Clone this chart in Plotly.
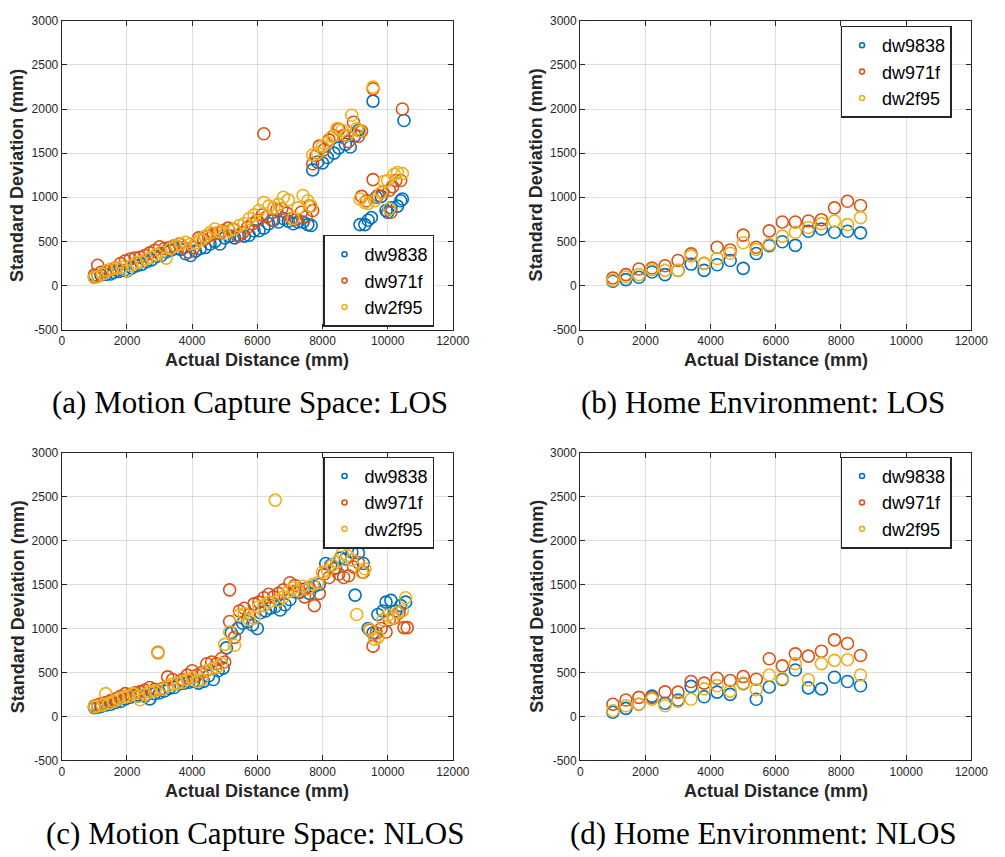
import plotly.graph_objects as go

# ---------------- data ----------------
series_names = ["dw9838", "dw971f", "dw2f95"]
colors = ["#0072BD", "#D95319", "#EDB120"]

x_ticks = [0, 2000, 4000, 6000, 8000, 10000, 12000]
x_ticktext = ["0", "2000", "4000", "6000", "8000", "10000", "12000"]
y_ticks = [-500, 0, 500, 1000, 1500, 2000, 2500, 3000]
y_ticktext = ["-500", "0", "500", "1000", "1500", "2000", "2500", "3000"]

# (a) Motion Capture Space: LOS
a_blue_x = [1000, 1100, 1200, 1350, 1500, 1600, 1750, 1900, 2000, 2150, 2300, 2450, 2600, 2750, 2900, 3050,
            3200, 3350, 3500, 3650, 3800, 3950, 4100, 4250, 4400, 4550, 4700, 4850, 5000, 5150, 5300, 5450,
            5600, 5750, 5900, 6050, 6200, 6350, 6500, 6650, 6800, 6950, 7100, 7250, 7400, 7550, 7650,
            7700, 7850, 8000, 8150, 8350, 8500, 8700, 8850, 9000, 9100, 9550, 10500,
            9150, 9300, 9400, 9500, 9650, 9800, 9950, 10000, 10100, 10300, 10400, 10450]
a_blue_y = [95, 110, 120, 125, 130, 150, 160, 170, 165, 200, 225, 240, 270, 290, 330, 340,
            380, 400, 420, 410, 360, 340, 390, 420, 430, 470, 500, 470, 540, 560, 540, 570,
            560, 570, 620, 620, 650, 700, 740, 720, 760, 730, 700, 720, 720, 690, 680,
            1310, 1400, 1390, 1450, 1500, 1560, 1600, 1570, 1700, 1760, 2090, 1870,
            690, 690, 740, 770, 1000, 1010, 850, 830, 880, 900, 960, 980]

a_orange_x = [1000, 1100, 1200, 1350, 1500, 1650, 1800, 1950, 2100, 2250, 2400, 2550, 2700, 2850, 3000, 3150,
              3300, 3450, 3600, 3750, 3900, 4050, 4200, 4350, 4500, 4650, 4800, 4950, 5100, 5250, 5400, 5550,
              5700, 5850, 6000, 6150, 6300, 6450, 6600, 6750, 6900, 7050, 7200, 7350, 7500, 7600, 7700,
              6200, 7700, 7800, 7900, 8050, 8200, 8350, 8500, 8650, 8800, 8950, 9100, 9200, 9550, 10450,
              9200, 9350, 9550, 9700, 9850, 10050, 10150, 10250, 10400, 10100]
a_orange_y = [120, 230, 150, 160, 180, 200, 250, 280, 300, 310, 320, 340, 370, 400, 440, 420,
              430, 450, 470, 430, 380, 430, 540, 520, 560, 580, 600, 620, 650, 640, 560, 600,
              660, 700, 740, 800, 780, 740, 860, 870, 820, 760, 750, 830, 780, 900, 850,
              1720, 1380, 1470, 1580, 1540, 1650, 1700, 1770, 1700, 1630, 1850, 1690, 1750, 2230, 2000,
              1010, 960, 1200, 1020, 1060, 1080, 1120, 1190, 1190, 830]

a_yellow_x = [1000, 1100, 1250, 1400, 1550, 1700, 1850, 2000, 2150, 2300, 2450, 2600, 2750, 2900, 3050, 3200,
              3350, 3500, 3650, 3800, 3950, 4100, 4250, 4400, 4550, 4700, 4850, 5000, 5150, 5300, 5450, 5600,
              5750, 5900, 6050, 6200, 6350, 6500, 6650, 6800, 6950, 7100, 7250, 7400, 7550, 7650,
              7700, 7850, 8000, 8150, 8300, 8450, 8600, 8750, 8900, 9050, 9150, 9550,
              9150, 9300, 9400, 9600, 9800, 9900, 10000, 10200, 10300, 10450, 10050]
a_yellow_y = [90, 100, 130, 170, 190, 200, 210, 170, 230, 260, 270, 300, 320, 350, 380, 310,
              420, 450, 470, 490, 470, 480, 520, 560, 600, 640, 610, 590, 620, 640, 680, 700,
              760, 800, 850, 940, 900, 880, 920, 1000, 970, 760, 880, 1020, 960, 900,
              1480, 1500, 1580, 1620, 1690, 1780, 1760, 1700, 1930, 1780, 1750, 2250,
              980, 940, 930, 960, 1050, 1180, 1190, 1260, 1280, 1270, 870]

# (b) Home Environment: LOS
home_x = [1000, 1400, 1800, 2200, 2600, 3000, 3400, 3800, 4200, 4600,
          5000, 5400, 5800, 6200, 6600, 7000, 7400, 7800, 8200, 8600]
b_blue_y = [50, 67, 93, 153, 123, 170, 243, 172, 235, 284, 194, 362, 450, 496, 455, 615, 640, 604, 615, 597]
b_orange_y = [86, 123, 187, 198, 224, 284, 358, 250, 433, 403, 571, 433, 619, 720, 720, 731, 746, 880, 955, 907]
b_yellow_y = [60, 97, 123, 179, 172, 172, 336, 254, 306, 366, 485, 410, 466, 560, 604, 657, 701, 731, 690, 769]

# (c) Motion Capture Space: NLOS
c_blue_x = [1000, 1100, 1200, 1350, 1500, 1650, 1800, 1950, 2100, 2250, 2400, 2550, 2700, 2850, 3000, 3150,
            3300, 3450, 3600, 3750, 3900, 4050, 4200, 4350, 4500, 4650, 4800, 4950, 5050, 5200, 5400, 5550,
            5700, 5850, 6000, 6100, 6250, 6400, 6550, 6700, 6850, 7000, 7150, 7300, 7450, 7600, 7750, 7900,
            8100, 8250, 8400, 8550, 8700, 8900, 9100, 9250, 9000, 9400, 9550, 9700, 9850, 9950, 10100,
            10250, 10400, 10550]
c_blue_y = [100, 105, 115, 130, 140, 160, 170, 200, 220, 230, 240, 230, 200, 260, 270, 290,
            320, 330, 370, 380, 390, 400, 380, 400, 460, 420, 520, 550, 780, 950, 1000, 1060,
            1080, 1040, 1000, 1180, 1200, 1230, 1250, 1210, 1270, 1330, 1420, 1410, 1450, 1400, 1480, 1500,
            1740, 1720, 1690, 1800, 1790, 1870, 1860, 1740, 1380, 1000, 950, 1160, 1200, 1300, 1320,
            1200, 1260, 1300]

c_orange_x = [1000, 1100, 1200, 1350, 1500, 1650, 1800, 1950, 2100, 2250, 2400, 2550, 2700, 2850, 2950, 3100,
              3250, 3400, 3550, 3700, 3850, 4000, 4150, 4300, 4450, 4600, 4750, 4900, 5000, 5150, 5150, 5300,
              5450, 5600, 5750, 5900, 6050, 6200, 6350, 6500, 6650, 6800, 7000, 7150, 7300, 7450, 7600, 7750,
              7900, 8050, 8200, 8350, 8500, 8650, 8800, 8950, 9100, 9250, 9450, 9550, 9650, 9800, 9950,
              10050, 10200, 10350, 10500, 10600]
c_orange_y = [120, 130, 145, 160, 180, 200, 230, 260, 250, 270, 280, 300, 330, 310, 730, 320,
              450, 420, 380, 420, 470, 520, 470, 500, 600, 620, 600, 660, 620, 1440, 1080, 900,
              1200, 1230, 1160, 1280, 1300, 1350, 1390, 1360, 1400, 1440, 1520, 1490, 1420, 1360, 1460, 1260,
              1400, 1620, 1580, 1680, 1620, 1580, 1600, 1700, 1750, 1640, 980, 800, 950, 1000, 960,
              1100, 1120, 1180, 1010, 1010]

c_yellow_x = [1000, 1100, 1250, 1350, 1450, 1600, 1750, 1900, 2050, 2200, 2350, 2400, 2550, 2700, 2850, 2950,
              3100, 3250, 3400, 3550, 3700, 3850, 4000, 4150, 4300, 4450, 4600, 4750, 4900, 5000, 5150, 5300,
              5450, 5600, 5750, 5900, 6050, 6200, 6350, 6550, 6650, 6800, 6950, 7100, 7250, 7400, 7550, 7700,
              7850, 8000, 8150, 8300, 8450, 8600, 8750, 8900, 9050, 9200, 9300, 9450, 9600, 9700, 9850,
              10000, 10150, 10300, 10450, 10550]
c_yellow_y = [110, 120, 130, 260, 150, 170, 200, 220, 230, 260, 230, 190, 250, 280, 290, 720,
              310, 350, 370, 380, 390, 420, 440, 400, 420, 520, 540, 560, 600, 820, 960, 810,
              1150, 1170, 1100, 1120, 1250, 1260, 1300, 2460, 1320, 1360, 1420, 1460, 1430, 1480, 1450, 1500,
              1520, 1640, 1660, 1720, 1760, 1850, 1830, 1780, 1160, 1640, 1680, 990, 880, 900, 1100,
              1150, 1120, 1180, 1200, 1350]

# (d) Home Environment: NLOS
d_blue_y = [48, 92, 140, 232, 151, 188, 343, 225, 277, 251, 373, 196, 336, 420, 528, 325, 314, 446, 398, 350]
d_orange_y = [140, 188, 218, 214, 280, 277, 398, 380, 435, 410, 454, 424, 657, 576, 712, 686, 742, 871, 830, 694]
d_yellow_y = [66, 122, 140, 196, 122, 170, 196, 314, 350, 288, 380, 306, 472, 432, 601, 417, 601, 638, 646, 472]

captions = ["(a) Motion Capture Space: LOS", "(b) Home Environment: LOS",
            "(c) Motion Capture Space: NLOS", "(d) Home Environment: NLOS"]
x_title = "Actual Distance (mm)"
y_title = "Standard Deviation (mm)"

panels = [
    [(a_blue_x, a_blue_y), (a_orange_x, a_orange_y), (a_yellow_x, a_yellow_y)],
    [(home_x, b_blue_y), (home_x, b_orange_y), (home_x, b_yellow_y)],
    [(c_blue_x, c_blue_y), (c_orange_x, c_orange_y), (c_yellow_x, c_yellow_y)],
    [(home_x, d_blue_y), (home_x, d_orange_y), (home_x, d_yellow_y)],
]

# ---------------- layout geometry (pixels) ----------------
W, H = 1005, 857
px_x = [(60, 459), (589, 988), (60, 459), (589, 988)]
px_y = [(14, 328), (14, 328), (453, 766), (453, 766)]

AXC = "#262626"
SANS = "Liberation Sans, Arial, sans-serif"
SERIF = "Liberation Serif, Times New Roman, serif"

fig = go.Figure()

legend_names = ["legend", "legend2", "legend3", "legend4"]
for i, pdata in enumerate(panels):
    xa = "x" if i == 0 else f"x{i+1}"
    ya = "y" if i == 0 else f"y{i+1}"
    for (xs, ys), name, col in zip(pdata, series_names, colors):
        fig.add_trace(go.Scatter(
            x=xs, y=ys, mode="markers", name=name, xaxis=xa, yaxis=ya,
            showlegend=False, hoverinfo="x+y",
            marker=dict(symbol="circle-open", size=12, color=col, line=dict(width=1.6)),
        ))
    for name, col in zip(series_names, colors):
        fig.add_trace(go.Scatter(
            x=[None], y=[None], mode="markers", name=name, xaxis=xa, yaxis=ya,
            legend=legend_names[i], showlegend=True,
            marker=dict(symbol="circle-open", size=5, color=col, line=dict(width=1.6)),
        ))

layout = dict(
    width=W, height=H, margin=dict(l=0, r=0, t=0, b=0),
    paper_bgcolor="white", plot_bgcolor="white",
    font=dict(family=SANS, color=AXC),
    annotations=[], showlegend=True,
)

legend_pos = [
    dict(x=440 / W, y=1 - 325 / H, xanchor="right", yanchor="bottom"),
    dict(x=968 / W, y=1 - 19 / H, xanchor="right", yanchor="top"),
    dict(x=440 / W, y=1 - 457 / H, xanchor="right", yanchor="top"),
    dict(x=968 / W, y=1 - 457 / H, xanchor="right", yanchor="top"),
]

for i in range(4):
    xk = "xaxis" if i == 0 else f"xaxis{i+1}"
    yk = "yaxis" if i == 0 else f"yaxis{i+1}"
    (x0, x1), (y0, y1) = px_x[i], px_y[i]
    common = dict(
        showline=True, linecolor=AXC, linewidth=1.3, mirror="ticks",
        ticks="inside", ticklen=5, tickwidth=1.1, tickcolor=AXC,
        showgrid=True, gridcolor="rgba(38,38,38,0.15)", gridwidth=1,
        zeroline=False, tickfont=dict(family=SANS, size=12, color=AXC),
        fixedrange=True,
    )
    layout[xk] = dict(common, domain=[x0 / W, x1 / W], range=[0, 12000],
                      tickmode="array", tickvals=x_ticks, ticktext=x_ticktext,
                      anchor="y" if i == 0 else f"y{i+1}")
    layout[yk] = dict(common, domain=[1 - y1 / H, 1 - y0 / H], range=[-500, 3000],
                      tickmode="array", tickvals=y_ticks, ticktext=y_ticktext,
                      anchor="x" if i == 0 else f"x{i+1}")
    # axis titles
    layout["annotations"].append(dict(
        text=f"<b>{x_title}</b>", xref="paper", yref="paper",
        x=(x0 + x1) / 2 / W, y=1 - (y1 + 31) / H, xanchor="center", yanchor="middle",
        showarrow=False, font=dict(family=SANS, size=18, color=AXC)))
    layout["annotations"].append(dict(
        text=f"<b>{y_title}</b>", xref="paper", yref="paper",
        x=(x0 - 45) / W, y=1 - (y0 + y1) / 2 / H, xanchor="center", yanchor="middle",
        textangle=-90, showarrow=False, font=dict(family=SANS, size=18, color=AXC)))
    # legends
    lk = legend_names[i]
    layout[lk] = dict(legend_pos[i], bgcolor="white", bordercolor=AXC, borderwidth=1.3,
                      font=dict(family=SANS, size=18, color="black"),
                      itemwidth=30, tracegroupgap=0)

cap_pos = [(252, 402), (775, 402), (257, 840), (776, 840)]
for cap, (cx, cy) in zip(captions, cap_pos):
    layout["annotations"].append(dict(
        text=cap, xref="paper", yref="paper", x=cx / W, y=1 - cy / H,
        xanchor="center", yanchor="middle", showarrow=False,
        font=dict(family=SERIF, size=31, color="black")))

fig.update_layout(**layout)
fig.write_html("out.html")
